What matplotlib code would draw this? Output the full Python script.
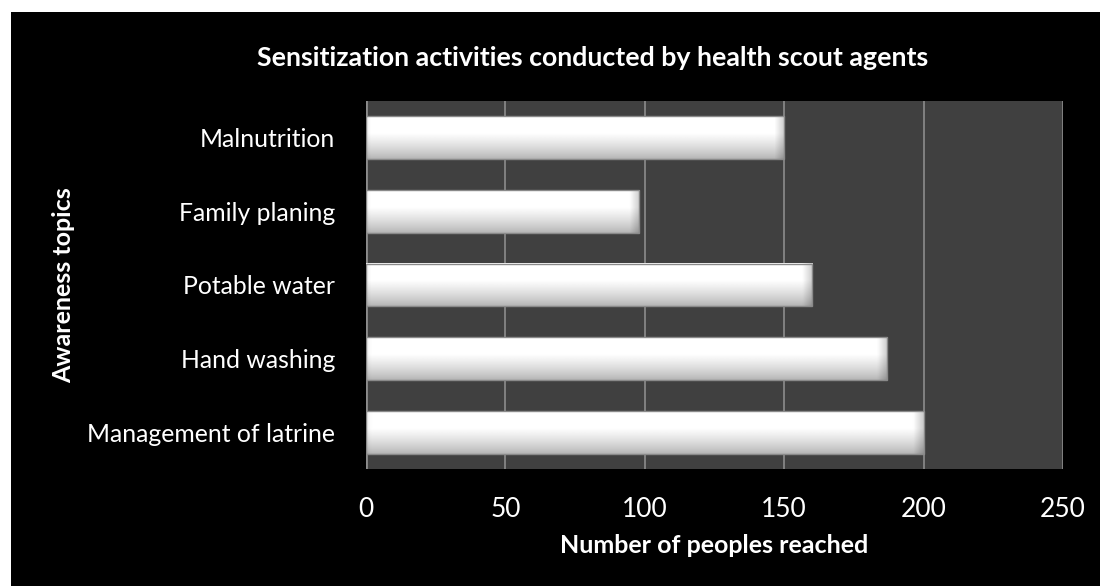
import matplotlib.pyplot as plt
import numpy as np

topics = ['Management of latrine', 'Hand washing', 'Potable water', 'Family planing', 'Malnutrition']
people = [200, 187, 160, 98, 150]
xticks = [0, 50, 100, 150, 200, 250]

plt.rcParams['font.family'] = ['Lato', 'DejaVu Sans']

fig = plt.figure(figsize=(11, 5.86), dpi=100)
fig.patch.set_facecolor('white')
# black chart area with thin white margin top/left
bg = fig.add_axes([11 / 1100, 0, 1 - 11 / 1100, 1 - 12 / 586], zorder=-10)
bg.set_facecolor('black')
bg.set_xticks([])
bg.set_yticks([])
for s in bg.spines.values():
    s.set_visible(False)

ax = fig.add_axes([366 / 1100, 1 - 469 / 586, (1063 - 366) / 1100, (469 - 101) / 586])
ax.set_facecolor('#404040')

h = 0.58
y = np.arange(len(topics))
bars = ax.barh(y, people, height=h, color='none', edgecolor='#8a8a8a', linewidth=1, zorder=4)

# gradient fill: white on top, grey at the bottom, bevel at the right end
ny, nx = 80, 300
t = np.linspace(0, 1, ny)  # 0 = bottom, 1 = top
col = np.where(t > 0.6, 1.0, 0.70 + 0.30 * (t / 0.6) ** 0.8)
for yi, v in zip(y, people):
    g = col[:, None] * np.ones((1, nx))
    xs = np.linspace(0, v, nx)
    edge = np.clip((v - xs) / 3.5, 0, 1)
    g = g * (0.80 + 0.20 * edge)[None, :]
    left = np.clip(xs / 1.5, 0, 1)
    g = g * (0.92 + 0.08 * left)[None, :]
    ax.imshow(g, cmap='gray', vmin=0, vmax=1, aspect='auto', origin='lower',
              extent=(0, v, yi - h / 2, yi + h / 2), zorder=3, interpolation='bilinear')

ax.set_xlim(0, 250)
ax.set_ylim(-0.5, len(topics) - 0.5)
ax.set_xticks(xticks)
ax.set_yticks(y)
ax.set_yticklabels(topics)
ax.grid(axis='x', color='#8c8c8c', linewidth=1.2, zorder=1)
ax.set_axisbelow(True)
for s in ax.spines.values():
    s.set_visible(False)
ax.tick_params(colors='white', length=0)
ax.tick_params(axis='y', labelsize=17.8, pad=22)
ax.tick_params(axis='x', labelsize=19, pad=20)
ax.axvline(0, color='#8c8c8c', linewidth=2, zorder=2)

ax.set_xlabel('Number of peoples reached', color='white', fontsize=18, fontweight='bold', labelpad=9)
ax.set_ylabel('Awareness topics', color='white', fontsize=18, fontweight='bold')
ax.yaxis.set_label_coords(-0.418, 0.5)
fig.text(593 / 1100, 1 - 58 / 586, 'Sensitization activities conducted by health scout agents',
         color='white', fontsize=19.3, fontweight='bold', ha='center', va='center')

fig.savefig('out.png', dpi=100, facecolor=fig.get_facecolor())
